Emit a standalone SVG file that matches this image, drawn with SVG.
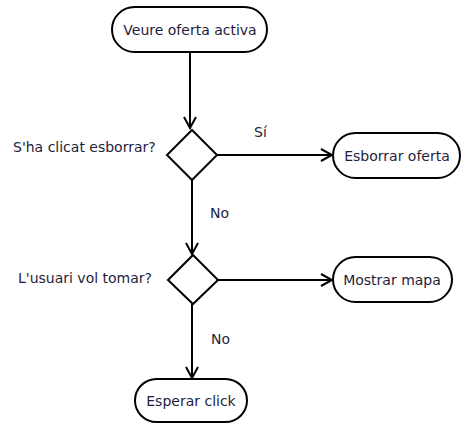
<svg xmlns="http://www.w3.org/2000/svg" width="463" height="424" viewBox="0 0 463 424">
  <style>
    .term { fill: #ffffff; stroke: #000000; stroke-width: 2; }
    .dec { fill: #ffffff; stroke: #000000; stroke-width: 2; }
    .edge { fill: none; stroke: #000000; stroke-width: 2; }
    text { font-family: "DejaVu Sans", Verdana, sans-serif; font-size: 14px; fill: #1e1e3c; }
    .c { text-anchor: middle; dominant-baseline: central; }
    .l { dominant-baseline: central; }
  </style>
  <defs>
    <marker id="arrow" markerWidth="14" markerHeight="14" refX="12" refY="7" orient="auto" markerUnits="userSpaceOnUse">
      <path d="M1,1 L12,7 L1,13" fill="none" stroke="#000000" stroke-width="2"/>
    </marker>
  </defs>
  <rect width="463" height="424" fill="#ffffff"/>

  <g id="connectors">
    <line class="edge" x1="190" y1="52" x2="190" y2="128" marker-end="url(#arrow)"/>
    <line class="edge" x1="217" y1="155" x2="332" y2="155" marker-end="url(#arrow)"/>
    <line class="edge" x1="192" y1="180" x2="192" y2="254" marker-end="url(#arrow)"/>
    <line class="edge" x1="218" y1="280" x2="332" y2="280" marker-end="url(#arrow)"/>
    <line class="edge" x1="192" y1="304" x2="192" y2="378" marker-end="url(#arrow)"/>
    <text class="l" x="254" y="132">Sí</text>
    <text class="l" x="210" y="213">No</text>
    <text class="l" x="211" y="339">No</text>
  </g>

  <g id="start">
    <rect class="term" x="112" y="7" width="155" height="45" rx="22.5"/>
    <text class="c" x="190" y="30">Veure oferta activa</text>
  </g>

  <g id="decision-delete">
    <polygon class="dec" points="192,130 217,155 192,180 167,155"/>
    <text class="l" x="13" y="147">S'ha clicat esborrar?</text>
  </g>

  <g id="delete-offer">
    <rect class="term" x="333" y="133" width="127" height="45" rx="22.5"/>
    <text class="c" x="397" y="156">Esborrar oferta</text>
  </g>

  <g id="decision-return">
    <polygon class="dec" points="193,255 218,280 193,304 168,280"/>
    <text class="l" x="18" y="278">L'usuari vol tomar?</text>
  </g>

  <g id="show-map">
    <rect class="term" x="333" y="257" width="119" height="45" rx="22.5"/>
    <text class="c" x="392" y="280">Mostrar mapa</text>
  </g>

  <g id="wait-click">
    <rect class="term" x="135" y="379" width="112" height="43" rx="21.5"/>
    <text class="c" x="191" y="401">Esperar click</text>
  </g>
</svg>
